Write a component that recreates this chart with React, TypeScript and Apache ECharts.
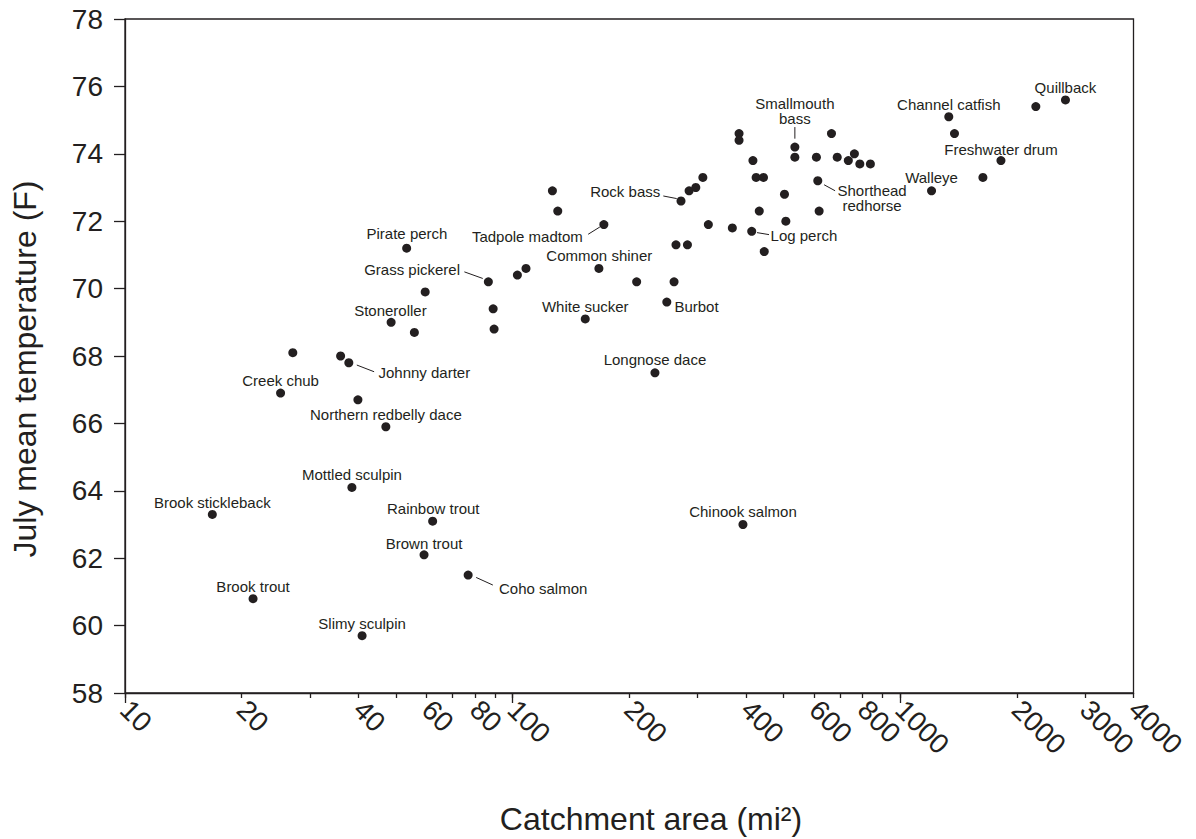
import React, { useEffect, useRef } from 'react';
import * as echarts from 'echarts';

// ---- Data ----
const speciesNames: string[] = [
  'Quillback', 'Channel catfish', 'Freshwater drum', 'Walleye', 'Smallmouth\nbass',
  'Shorthead\nredhorse', 'Log perch', 'Rock bass', 'Tadpole madtom', 'Common shiner',
  'White sucker', 'Burbot', 'Longnose dace', 'Chinook salmon', 'Pirate perch',
  'Grass pickerel', 'Stoneroller', 'Johnny darter', 'Creek chub', 'Northern redbelly dace',
  'Mottled sculpin', 'Brook stickleback', 'Rainbow trout', 'Brown trout', 'Coho salmon',
  'Brook trout', 'Slimy sculpin',
  '', '', '', '', '', '', '', '', '', '', '', '', '', '', '', '', '', '', '', '', '',
  '', '', '', '', '', '', '', '', '', '', '', '', '', '', '', '', '', '', '', ''
];

const catchmentArea: number[] = [
  2670, 1335, 1820, 1205, 535,
  613, 414, 272, 172, 167,
  154, 250, 233, 393, 53.3,
  86.6, 48.6, 37.8, 25.2, 47.1,
  38.5, 16.8, 62.2, 59.1, 76.8,
  21.4, 40.9,
  55.8, 89.6, 89.1, 59.5, 27.1, 36.0, 39.9, 102.9, 108.3, 126.7, 130.8, 209, 261, 264,
  282.6, 285.4, 297, 309.7, 320, 369, 384, 384, 417, 425, 444, 433, 446, 503, 507, 535,
  608, 618, 665, 688, 735, 762, 787, 838, 1381, 1635, 2239
];

const julyTemp: number[] = [
  75.6, 75.1, 73.8, 72.9, 74.2,
  73.2, 71.7, 72.6, 71.9, 70.6,
  69.1, 69.6, 67.5, 63.0, 71.2,
  70.2, 69.0, 67.8, 66.9, 65.9,
  64.1, 63.3, 63.1, 62.1, 61.5,
  60.8, 59.7,
  68.7, 68.8, 69.4, 69.9, 68.1, 68.0, 66.7, 70.4, 70.6, 72.9, 72.3, 70.2, 70.2, 71.3,
  71.3, 72.9, 73.0, 73.3, 71.9, 71.8, 74.6, 74.4, 73.8, 73.3, 73.3, 72.3, 71.1, 72.8, 72.0, 73.9,
  73.9, 72.3, 74.6, 73.9, 73.8, 74.0, 73.7, 73.7, 74.6, 73.3, 75.4
];

const xTickValues = [10, 20, 30, 40, 50, 60, 70, 80, 90, 100, 200, 300, 400, 500, 600, 700, 800, 900, 1000, 2000, 3000, 4000];
const xLabelValues = [10, 20, 40, 60, 80, 100, 200, 400, 600, 800, 1000, 2000, 3000, 4000];
const xMajorTickValues = [10, 100, 1000];
const xMin = 10;
const xMax = 4000;
const yMin = 58;
const yMax = 78;
const yInterval = 2;

const xTitle = 'Catchment area (mi\u00b2)';
const yTitle = 'July mean temperature (F)';

// ---- Label placement (pixel offsets of the label centre from its dot, and leader lines) ----
type Placement = { offset: [number, number]; leader?: [number, number, number, number] };
const labelPlacement: Record<string, Placement> = {
  'Quillback': { offset: [0, -12.5] },
  'Channel catfish': { offset: [0, -12.2] },
  'Freshwater drum': { offset: [0, -11.5] },
  'Walleye': { offset: [0, -12.9] },
  'Smallmouth\nbass': { offset: [0, -35.8], leader: [0, -20, 0, -8.4] },
  'Shorthead\nredhorse': { offset: [54.3, 17.6], leader: [6.3, 4, 17.3, 10] },
  'Log perch': { offset: [52.2, 3.8], leader: [5.3, 1.3, 17.3, 3.3] },
  'Rock bass': { offset: [-55.8, -9.2], leader: [-17.7, -5, -4.3, -2.4] },
  'Tadpole madtom': { offset: [-76.5, 12.2], leader: [-15.7, 9.7, -4, 2.4] },
  'Common shiner': { offset: [0.4, -13.2] },
  'White sucker': { offset: [0, -12.3] },
  'Burbot': { offset: [29.7, 4.4] },
  'Longnose dace': { offset: [0, -13.3] },
  'Chinook salmon': { offset: [0, -13.3] },
  'Pirate perch': { offset: [0.3, -14.2] },
  'Grass pickerel': { offset: [-76.3, -12.5], leader: [-24, -10, -5.6, -3.4] },
  'Stoneroller': { offset: [-0.7, -11.9] },
  'Johnny darter': { offset: [75.5, 9.8], leader: [8, 2.3, 25.3, 9] },
  'Creek chub': { offset: [0, -12.5] },
  'Northern redbelly dace': { offset: [0, -12.5] },
  'Mottled sculpin': { offset: [0, -13.1] },
  'Brook stickleback': { offset: [0, -12.3] },
  'Rainbow trout': { offset: [0.6, -12.9] },
  'Brown trout': { offset: [0, -11.8] },
  'Coho salmon': { offset: [75, 13.2], leader: [8, 2.4, 24.7, 10] },
  'Brook trout': { offset: [0, -12.5] },
  'Slimy sculpin': { offset: [0, -12] },
};

const INK = '#231f20';
const FONT = '"Liberation Sans", Arial, Helvetica, sans-serif';

export default function App() {
  const ref = useRef<HTMLDivElement>(null);

  useEffect(() => {
    if (!ref.current) return;
    const chart = echarts.init(ref.current, undefined, { renderer: 'svg' });

    const scatterData = catchmentArea.map((a, i) => {
      const name = speciesNames[i];
      const pl = name ? labelPlacement[name] : undefined;
      return {
        name,
        value: [a, julyTemp[i]],
        label: pl ? { show: true, formatter: name } : { show: false },
      };
    });

    const leaderData: any[] = [];
    catchmentArea.forEach((a, i) => {
      const name = speciesNames[i];
      const pl = name ? labelPlacement[name] : undefined;
      if (pl && pl.leader) {
        leaderData.push([a, julyTemp[i], ...pl.leader]);
      }
    });

    const axisLineStyle = { color: INK, width: 1.3 };

    const option: any = {
      animation: false,
      backgroundColor: '#ffffff',
      grid: {
        left: 125,
        right: 62.5,
        top: 19,
        bottom: 146,
        show: true,
        borderColor: INK,
        borderWidth: 1.3,
        backgroundColor: 'transparent',
        containLabel: false,
      },
      xAxis: [
        {
          type: 'log',
          logBase: 10,
          min: xMin,
          max: xMax,
          position: 'bottom',
          axisLine: { show: true, lineStyle: axisLineStyle },
          splitLine: { show: false },
          minorTick: { show: false },
          axisTick: { show: true, length: 5, customValues: xTickValues, lineStyle: axisLineStyle },
          axisLabel: {
            show: true,
            customValues: xLabelValues,
            rotate: -45,
            margin: 12,
            fontSize: 28,
            fontFamily: FONT,
            color: INK,
            formatter: (v: number) => String(Math.round(v)),
          },
        },
        {
          type: 'log',
          logBase: 10,
          min: xMin,
          max: xMax,
          gridIndex: 0,
          position: 'bottom',
          axisLine: { show: false },
          splitLine: { show: false },
          axisLabel: { show: false },
          axisTick: { show: true, length: 10, customValues: xMajorTickValues, lineStyle: axisLineStyle },
        },
      ],
      yAxis: {
        type: 'value',
        min: yMin,
        max: yMax,
        interval: yInterval,
        axisLine: { show: true, lineStyle: axisLineStyle },
        splitLine: { show: false },
        axisTick: { show: true, length: 11, lineStyle: axisLineStyle },
        axisLabel: { fontSize: 28, fontFamily: FONT, color: INK, margin: 22 },
      },
      series: [
        {
          type: 'custom',
          coordinateSystem: 'cartesian2d',
          xAxisIndex: 0,
          yAxisIndex: 0,
          silent: true,
          encode: { x: 0, y: 1 },
          data: leaderData,
          renderItem: (params: any, api: any) => {
            const p = api.coord([api.value(0), api.value(1)]);
            return {
              type: 'line',
              shape: {
                x1: p[0] + api.value(2),
                y1: p[1] + api.value(3),
                x2: p[0] + api.value(4),
                y2: p[1] + api.value(5),
              },
              style: { stroke: INK, lineWidth: 1 },
            };
          },
        },
        {
          type: 'scatter',
          xAxisIndex: 0,
          yAxisIndex: 0,
          symbol: 'circle',
          symbolSize: 9,
          itemStyle: { color: INK, opacity: 1 },
          label: {
            show: false,
            position: 'inside',
            fontSize: 15,
            fontFamily: FONT,
            color: INK,
            lineHeight: 15,
            align: 'center',
            verticalAlign: 'middle',
          },
          labelLayout: (params: any) => {
            const name = speciesNames[params.dataIndex];
            const pl = name ? labelPlacement[name] : undefined;
            return pl ? { dx: pl.offset[0], dy: pl.offset[1], hideOverlap: false } : {};
          },
          data: scatterData,
          z: 3,
        },
      ],
      graphic: [
        {
          type: 'text',
          x: 25,
          y: 369,
          rotation: Math.PI / 2,
          style: {
            text: yTitle,
            fontSize: 32,
            fontFamily: FONT,
            fill: INK,
            align: 'center',
            verticalAlign: 'middle',
          },
        },
        {
          type: 'text',
          x: 651,
          y: 819,
          style: {
            text: xTitle,
            fontSize: 32,
            fontFamily: FONT,
            fill: INK,
            align: 'center',
            verticalAlign: 'middle',
          },
        },
      ],
    };

    chart.setOption(option);
    return () => chart.dispose();
  }, []);

  return (
    <div
      ref={ref}
      style={{ position: 'fixed', left: 0, top: 0, width: '1196px', height: '839px', background: '#fff' }}
    />
  );
}
